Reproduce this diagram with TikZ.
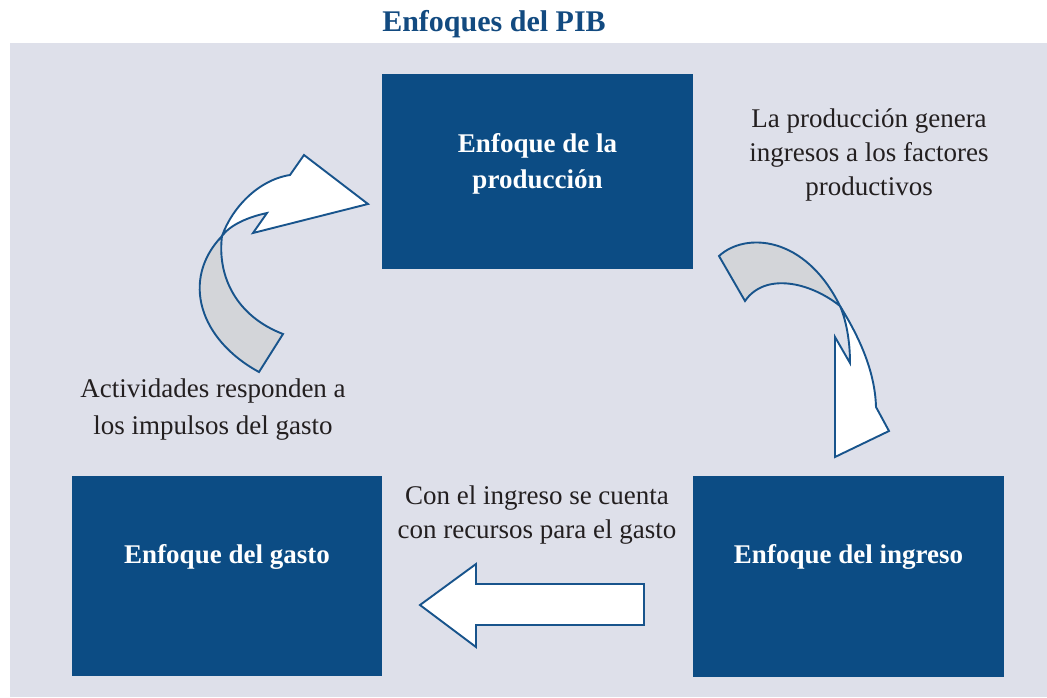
\documentclass[tikz,border=0pt]{standalone}
\usepackage{fontspec}
\setmainfont{Liberation Serif}
\definecolor{panel}{RGB}{222,224,234}
\definecolor{boxblue}{RGB}{12,76,132}
\definecolor{edgeblue}{RGB}{24,84,140}
\definecolor{ribbon}{RGB}{211,213,217}
\definecolor{titleblue}{RGB}{18,74,128}
\definecolor{textgray}{RGB}{35,31,32}
\begin{document}
\begin{tikzpicture}[x=1pt,y=-1pt,
  boxstyle/.style={fill=boxblue, inner sep=0pt},
  boxtext/.style={text=white, font=\bfseries\fontsize{27}{36}\selectfont, align=center, inner sep=0pt},
  labelstyle/.style={text=textgray, font=\fontsize{27}{34}\selectfont, align=center, inner sep=0pt},
  arrowline/.style={draw=edgeblue, line width=1.9pt, line join=miter}]
\useasboundingbox (0,0) rectangle (1047,697);
\fill[panel] (10,43) rectangle (1047,697);
\node[text=titleblue, font=\bfseries\fontsize{30}{36}\selectfont, anchor=base, inner sep=0pt] (title) at (494,31) {Enfoques del PIB};
\node[boxstyle, minimum width=311pt, minimum height=195pt] (prod) at (537.5,171.5) {};
\node[boxstyle, minimum width=310pt, minimum height=200pt] (gasto) at (227,576) {};
\node[boxstyle, minimum width=311pt, minimum height=201pt] (ingreso) at (848.5,576.5) {};
\node[boxtext] (prodtext) at (prod.center) [yshift=8pt] {Enfoque de la\\producción};
\node[boxtext] (gastotext) at (227,557) {Enfoque del gasto};
\node[boxtext] (ingresotext) at (848.5,557) {Enfoque del ingreso};
\node[labelstyle] (l1) at (869,155) {La producción genera\\ingresos a los factores\\productivos};
\node[labelstyle, font=\fontsize{27}{37}\selectfont] (l2) at (213,410) {Actividades responden a\\los impulsos del gasto};
\node[labelstyle] (l3) at (537,515) {Con el ingreso se cuenta\\con recursos para el gasto};
% left curved arrow
\draw[arrowline, fill=ribbon] (259,372) .. controls (200,340) and (180,280) .. (222,236) .. controls (217,276) and (236,316) .. (283,334) -- cycle;
\draw[arrowline, fill=white] (222,236) .. controls (232,208) and (258,180) .. (290,175) -- (304,155) -- (368,204) -- (253,233) -- (267,213) .. controls (248,217) and (230,225) .. (222,236) -- cycle;
% right curved arrow
\draw[arrowline, fill=ribbon] (719,256) .. controls (745,232) and (805,235) .. (840,306) .. controls (810,282) and (765,272) .. (745,301) -- cycle;
\draw[arrowline, fill=white] (840,306) .. controls (858,335) and (875,370) .. (876,407) -- (889,431) -- (835,457) -- (835,337) -- (850,363) .. controls (850,340) and (846,320) .. (840,306) -- cycle;
% straight arrow
\draw[arrowline, fill=white] (644,584) -- (476,584) -- (476,564) -- (420,605) -- (476,647) -- (476,625) -- (644,625) -- cycle;
\end{tikzpicture}
\end{document}
